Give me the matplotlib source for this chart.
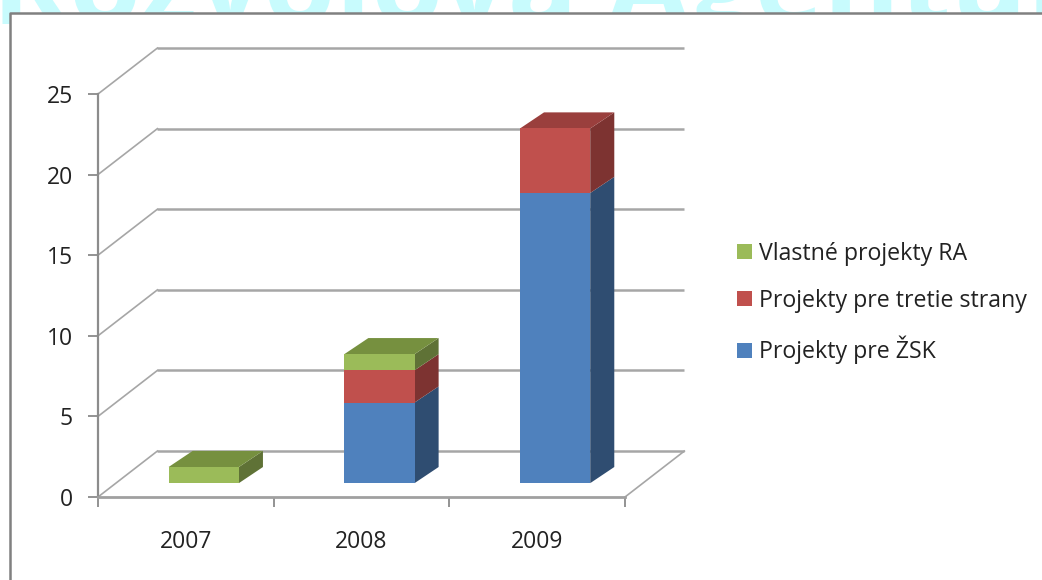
import matplotlib
matplotlib.use("Agg")
import matplotlib.pyplot as plt
from matplotlib.patches import Patch, Polygon, Rectangle

years = ["2007", "2008", "2009"]
zsk = [0, 5, 18]
tretie = [0, 2, 4]
vlastne = [1, 1, 0]
y_ticks = [0, 5, 10, 15, 20, 25]
series_names = ["Projekty pre ŽSK", "Projekty pre tretie strany", "Vlastné projekty RA"]

front_cols = ["#4f81bd", "#c0504d", "#9bbb59"]
top_cols = ["#3f6797", "#9a3f3d", "#76903f"]
side_cols = ["#2f4d71", "#7d3331", "#5f7236"]

W, H = 1042, 580
# depth of the box and of the bars, in data units
BOX_DX, BOX_DY = 0.338, 2.85
BAR_OFF_DX, BAR_OFF_DY = 0.102, 0.86
BAR_DX, BAR_DY = 0.137, 1.0
BAR_W = 0.40

plt.rcParams["font.family"] = ["Open Sans", "DejaVu Sans"]

fig = plt.figure(figsize=(W / 100, H / 100), dpi=100)
ax = fig.add_axes([98 / W, 1 - 497 / H, 527 / W, 403 / H])
ax.set_xlim(0, 3)
ax.set_ylim(0, 25)
for s in ax.spines.values():
    s.set_visible(False)
ax.patch.set_alpha(0)

# back wall gridlines and the left wall diagonals
for t in y_ticks:
    ax.plot([BOX_DX, 3 + BOX_DX], [t + BOX_DY, t + BOX_DY], color="#a6a6a6", lw=1.8,
            clip_on=False, solid_capstyle="butt", zorder=1)
    ax.plot([0, BOX_DX], [t, t + BOX_DY], color="#a6a6a6", lw=1.2, clip_on=False, zorder=1)
ax.plot([3, 3 + BOX_DX], [0, BOX_DY], color="#a6a6a6", lw=1.2, clip_on=False, zorder=1)

# front axis lines
ax.plot([0, 0], [0, 25], color="#8c8c8c", lw=1.6, clip_on=False, zorder=2)
ax.plot([0, 3], [0, 0], color="#a0a0a0", lw=2, clip_on=False, zorder=2)
ax.set_yticks(y_ticks)
ax.set_xticks(range(4))
ax.set_xticklabels([])
ax.tick_params(axis="y", length=7, width=1.2, color="#808080", pad=11, labelsize=16.5, labelcolor="#222222")
ax.tick_params(axis="x", length=7, width=1.2, color="#808080")
for i, year in enumerate(years):
    ax.annotate(year, (i + 0.5, 0), xytext=(0, -45), textcoords="offset pixels", ha="center", va="center",
                fontsize=16.5, color="#222222", annotation_clip=False)

# stacked 3d bars, lowest series first so upper ones draw over
stacks = [zsk, tretie, vlastne]
for i in range(len(years)):
    x0 = i + 0.5 - BAR_W / 2 + BAR_OFF_DX
    x1 = x0 + BAR_W
    bottom = BAR_OFF_DY
    for k, vals in enumerate(stacks):
        v = vals[i]
        if v == 0:
            continue
        top = bottom + v
        ax.add_patch(Polygon([(x1, bottom), (x1 + BAR_DX, bottom + BAR_DY), (x1 + BAR_DX, top + BAR_DY), (x1, top)],
                             closed=True, fc=side_cols[k], ec="none", clip_on=False, zorder=3))
        ax.bar(x0, v, width=BAR_W, bottom=bottom, align="edge", color=front_cols[k], zorder=4, clip_on=False)
        bottom = top
    # only the uppermost block shows its top face
    k_top = max(k for k in range(3) if stacks[k][i] > 0)
    ax.add_patch(Polygon([(x0, bottom), (x0 + BAR_DX, bottom + BAR_DY), (x1 + BAR_DX, bottom + BAR_DY), (x1, bottom)],
                         closed=True, fc=top_cols[k_top], ec="none", clip_on=False, zorder=3))

handles = [Patch(fc=front_cols[k], ec="none") for k in (2, 1, 0)]
labels = [series_names[k] for k in (2, 1, 0)]
fig.legend(handles, labels, loc="center left", bbox_to_anchor=(737 / W, 1 - 303 / H), frameon=False,
           fontsize=16.7, labelspacing=1.0, handlelength=0.65, handleheight=0.65, handletextpad=0.29,
           labelcolor="#222222", borderpad=0, borderaxespad=0)

# cropped watermark heading, white chart panel over it, and the outer frame
fig.text(-8 / W, 1 - 24 / H, "Rozvojová Agentúra", color="#c8fbfd", fontsize=84, fontweight="bold",
         ha="left", va="baseline", zorder=-3)
fig.add_artist(Rectangle((10 / W, 0), 1 - 10 / W, 1 - 13 / H, transform=fig.transFigure, fc="white", ec="none", zorder=-2))
fig.add_artist(plt.Line2D([10 / W, 10 / W, 1], [0, 1 - 13 / H, 1 - 13 / H], color="#808080", lw=1.8, zorder=-1))

fig.savefig("out.png", dpi=100)
